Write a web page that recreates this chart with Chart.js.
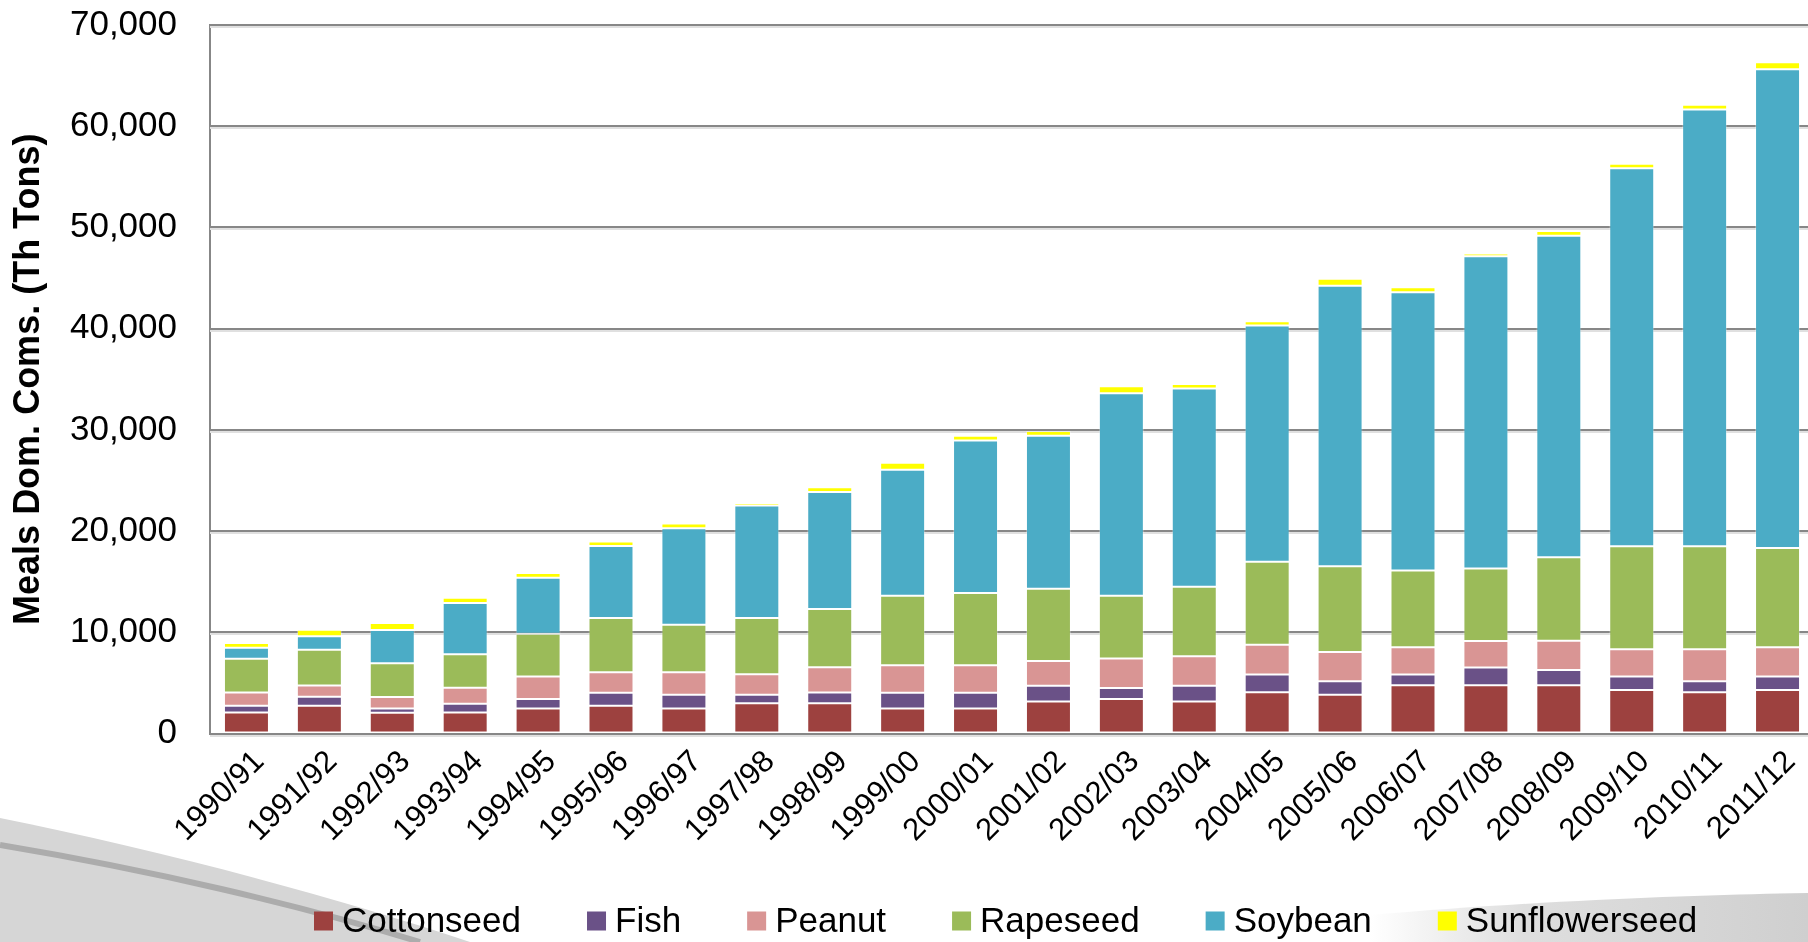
<!DOCTYPE html>
<html>
<head>
<meta charset="utf-8">
<script src="https://cdn.jsdelivr.net/npm/chart.js@4/dist/chart.umd.min.js"></script>
<style>
  html, body { margin: 0; padding: 0; background: #fff; overflow: hidden; }
  #wrap { position: relative; width: 1808px; height: 942px; overflow: hidden; }
  #deco, #c { position: absolute; left: 0; top: 0; }
</style>
</head>
<body>
<div id="wrap">
  <svg id="deco" width="1808" height="942" viewBox="0 0 1808 942">
    <defs>
      <linearGradient id="fadeR" x1="0" y1="0" x2="1" y2="0">
        <stop offset="0" stop-color="#d6d6d6" stop-opacity="0"/>
        <stop offset="0.35" stop-color="#d6d6d6" stop-opacity="0.8"/>
        <stop offset="1" stop-color="#cfcfcf" stop-opacity="1"/>
      </linearGradient>
    </defs>
    <!-- slide background swooshes -->
    <path d="M0,818 C150,848 330,895 470,942 L0,942 Z" fill="#d6d6d6"/>
    <path d="M0,845 C150,870 300,905 420,942" fill="none" stroke="#acacac" stroke-width="6"/>
    <path d="M1370,915 C1550,900 1700,895 1808,893 L1808,942 L1370,942 Z" fill="url(#fadeR)"/>
  </svg>
  <canvas id="c" width="1814" height="942"></canvas>
</div>
<script>
// Marketing years (x axis)
const seasons = ['1990/91','1991/92','1992/93','1993/94','1994/95','1995/96','1996/97','1997/98',
  '1998/99','1999/00','2000/01','2001/02','2002/03','2003/04','2004/05','2005/06','2006/07',
  '2007/08','2008/09','2009/10','2010/11','2011/12'];

// Domestic consumption of protein meals, thousand tons
const cottonseed = [2080, 2740, 2050, 2080, 2480, 2740, 2480, 2980, 2980, 2480, 2480,
  3170, 3400, 3170, 4070, 3830, 4760, 4760, 4760, 4300, 4070, 4300];
const fish = [660, 890, 430, 860, 930, 1290, 1360, 860, 1060, 1550, 1550,
  1550, 1090, 1550, 1750, 1320, 1060, 1750, 1520, 1320, 1090, 1320];
const peanut = [1320, 1120, 1120, 1580, 2210, 2020, 2210, 2020, 2510, 2710, 2710,
  2450, 2910, 2910, 2940, 2910, 2710, 2640, 2880, 2710, 3170, 2910];
const rapeseed = [3330, 3530, 3330, 3300, 4230, 5360, 4690, 5550, 5750, 6880, 7140,
  7140, 6210, 6880, 8200, 8460, 7570, 7140, 8260, 10180, 10180, 9790];
const soybean = [1090, 1320, 3300, 5080, 5550, 7110, 9550, 11110, 11570, 12430, 15070,
  15110, 20000, 19570, 23340, 27730, 27500, 30860, 31750, 37330, 43140, 47300];
const sunflowerseed = [460, 660, 690, 500, 460, 460, 460, 260, 460, 690, 460,
  460, 690, 460, 430, 690, 490, 270, 470, 460, 460, 690];

// Y axis ticks
const yTicks = [0, 10000, 20000, 30000, 40000, 50000, 60000, 70000];

const FONT = "'Liberation Sans', Arial, sans-serif";
const GRID = '#878787';

const series = [
  { label: 'Cottonseed', data: cottonseed, color: '#9d413f' },
  { label: 'Fish', data: fish, color: '#6a5187' },
  { label: 'Peanut', data: peanut, color: '#d99594' },
  { label: 'Rapeseed', data: rapeseed, color: '#9bbb59' },
  { label: 'Soybean', data: soybean, color: '#4bacc6' },
  { label: 'Sunflowerseed', data: sunflowerseed, color: '#ffff00' }
];

// Single-row legend under the axis labels, built from the datasets
const legendRow = {
  id: 'legendRow',
  afterDraw(chart) {
    const ctx = chart.ctx;
    const box = 19, gap = 9, spacing = 66, cy = 921;
    let x = 314;
    ctx.save();
    ctx.font = '35px ' + FONT;
    ctx.textBaseline = 'middle';
    ctx.textAlign = 'left';
    chart.data.datasets.forEach(ds => {
      ctx.fillStyle = ds.backgroundColor;
      ctx.fillRect(x, cy - box / 2, box, box);
      ctx.fillStyle = '#000';
      ctx.fillText(ds.label, x + box + gap, cy + 1);
      x += box + gap + ctx.measureText(ds.label).width + spacing;
    });
    ctx.restore();
  }
};

// Faint shadow under each horizontal gridline
const gridShadow = {
  id: 'gridShadow',
  beforeDatasetsDraw(chart) {
    const y = chart.scales.y, a = chart.chartArea, ctx = chart.ctx;
    ctx.save();
    ctx.strokeStyle = '#e0e0e0';
    ctx.lineWidth = 2;
    yTicks.forEach(v => {
      const py = Math.round(y.getPixelForValue(v)) + 2;
      ctx.beginPath(); ctx.moveTo(a.left, py); ctx.lineTo(a.right, py); ctx.stroke();
    });
    ctx.restore();
  }
};

new Chart(document.getElementById('c'), {
  type: 'bar',
  data: {
    labels: seasons,
    datasets: series.map(s => ({
      label: s.label,
      data: s.data,
      backgroundColor: s.color,
      borderColor: 'rgba(255,255,255,0.3)',
      borderWidth: 1,
      borderSkipped: false,
      categoryPercentage: 1.0,
      barPercentage: 0.617
    }))
  },
  options: {
    responsive: false,
    animation: false,
    devicePixelRatio: 1,
    layout: { padding: { top: 25, left: 0, right: 0, bottom: 0 } },
    plugins: {
      tooltip: { enabled: false },
      legend: { display: false }
    },
    scales: {
      x: {
        stacked: true,
        grid: { display: false, drawTicks: false },
        border: { display: true, color: GRID, width: 2 },
        ticks: {
          color: '#000',
          font: { family: FONT, size: 31 },
          minRotation: 45,
          maxRotation: 45,
          padding: 10,
          labelOffset: 13,
          autoSkip: false
        },
        afterFit(scale) { scale.height = 942 - 733.5; }
      },
      y: {
        stacked: true,
        min: 0,
        max: 70000,
        afterBuildTicks(scale) { scale.ticks = yTicks.map(v => ({ value: v })); },
        grid: { color: GRID, lineWidth: 2, drawTicks: false },
        border: { display: true, color: GRID, width: 2 },
        ticks: {
          color: '#000',
          font: { family: FONT, size: 35 },
          padding: 33,
          callback: v => v.toLocaleString('en-US')
        },
        title: {
          display: true,
          text: 'Meals Dom. Coms. (Th Tons)',
          color: '#000',
          font: { family: FONT, size: 36, weight: 'bold' },
          padding: { top: 7, bottom: 0 }
        },
        afterFit(scale) {
          scale.width = 210;
          scale.paddingTop = 20;
          scale.paddingBottom = 20;
        }
      }
    }
  },
  plugins: [gridShadow, legendRow]
});
</script>
</body>
</html>
